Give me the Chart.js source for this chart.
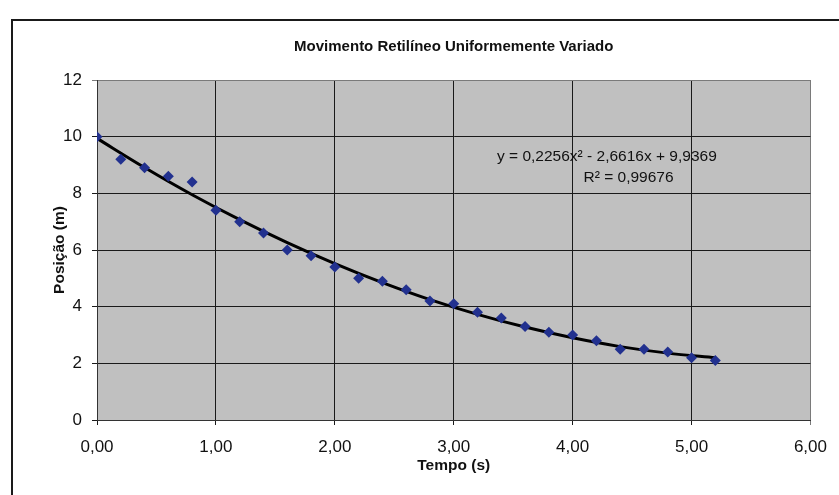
<!DOCTYPE html>
<html>
<head>
<meta charset="utf-8">
<script src="https://cdn.jsdelivr.net/npm/chart.js@4.4.1/dist/chart.umd.min.js"></script>
<style>
html,body{margin:0;padding:0;background:#fff;}
#wrap{width:839px;height:495px;position:relative;}
</style>
</head>
<body>
<div id="wrap"><canvas id="c" width="839" height="495"></canvas></div>
<script>
// Data
const tempo = [0,0.2,0.4,0.6,0.8,1.0,1.2,1.4,1.6,1.8,2.0,2.2,2.4,2.6,2.8,3.0,3.2,3.4,3.6,3.8,4.0,4.2,4.4,4.6,4.8,5.0,5.2];
const posicao = [10.0,9.2,8.9,8.6,8.4,7.4,7.0,6.6,6.0,5.8,5.4,5.0,4.9,4.6,4.2,4.1,3.8,3.6,3.3,3.1,3.0,2.8,2.5,2.5,2.4,2.2,2.1];
// Trendline samples
const trendX = [0,0.4,0.8,1.2,1.6,2.0,2.4,2.8,3.2,3.6,4.0,4.4,4.8,5.2];
const trendY = [9.94,8.91,7.95,7.07,6.26,5.52,4.85,4.25,3.73,3.28,2.90,2.59,2.36,2.20];
const xTicks = [0,1,2,3,4,5,6];
const yTicks = [0,2,4,6,8,10,12];
const titleText = 'Movimento Retilíneo Uniformemente Variado';
const xTitle = 'Tempo (s)';
const yTitle = 'Posição (m)';
const eqLine1 = 'y = 0,2256x² - 2,6616x + 9,9369';
const eqLine2 = 'R² = 0,99676';

const FONT = "'Liberation Sans', Arial, sans-serif";

const decor = {
  id: 'decor',
  beforeDraw(chart) {
    const {ctx, chartArea: a} = chart;
    ctx.save();
    ctx.fillStyle = '#ffffff';
    ctx.fillRect(0, 0, chart.width, chart.height);
    ctx.strokeStyle = '#1a1a1a';
    ctx.lineWidth = 2;
    ctx.strokeRect(12, 20, chart.width + 20, chart.height + 20);
    ctx.fillStyle = '#c0c0c0';
    ctx.fillRect(a.left, a.top, a.right - a.left, a.bottom - a.top);
    // chart title, centred over the plot area
    ctx.fillStyle = '#111';
    ctx.font = 'bold 15px ' + FONT;
    ctx.textAlign = 'center';
    ctx.textBaseline = 'middle';
    ctx.fillText(titleText, (a.left + a.right) / 2, 47);
    ctx.restore();
  },
  afterDatasetsDraw(chart) {
    const {ctx} = chart;
    const xs = chart.scales.x, ys = chart.scales.y;
    ctx.save();
    ctx.fillStyle = '#111';
    ctx.font = '15.5px ' + FONT;
    ctx.textAlign = 'center';
    ctx.textBaseline = 'middle';
    ctx.fillText(eqLine1, xs.getPixelForValue(4.288), ys.getPixelForValue(9.28));
    ctx.fillText(eqLine2, xs.getPixelForValue(4.47), ys.getPixelForValue(8.55));
    ctx.restore();
  }
};

const gridColor = (edgeValue) => (c) => (c.tick && c.tick.value === edgeValue) ? '#7a7a7a' : '#1a1a1a';

new Chart(document.getElementById('c'), {
  type: 'scatter',
  data: {
    datasets: [
      {
        label: 'Trend',
        type: 'line',
        data: trendX.map((x, i) => ({x, y: trendY[i]})),
        borderColor: '#000000',
        borderWidth: 3,
        pointRadius: 0,
        fill: false,
        cubicInterpolationMode: 'monotone',
        order: 2
      },
      {
        label: 'Posição',
        data: tempo.map((x, i) => ({x, y: posicao[i]})),
        pointStyle: 'rectRot',
        pointRadius: 5.5,
        backgroundColor: '#22318f',
        borderColor: '#22318f',
        borderWidth: 0,
        order: 1
      }
    ]
  },
  options: {
    responsive: false,
    animation: false,
    events: [],
    layout: {padding: {left: 0, right: 27, top: 80, bottom: 0}},
    plugins: {
      legend: {display: false},
      tooltip: {enabled: false},
      title: {display: false}
    },
    scales: {
      x: {
        type: 'linear',
        min: 0, max: 6,
        afterBuildTicks(s) { s.ticks = xTicks.map(v => ({value: v})); },
        afterFit(s) { s.height = 75; },
        ticks: {
          color: '#111',
          font: {family: FONT, size: 17},
          padding: 12,
          callback: v => v.toFixed(2).replace('.', ',')
        },
        grid: {color: gridColor(6), lineWidth: 1, tickLength: 5, drawTicks: true},
        border: {display: true, color: '#333', width: 1},
        title: {
          display: true, text: xTitle, color: '#111',
          font: {family: FONT, size: 15.5, weight: 'bold', lineHeight: 1.2},
          padding: {top: 0, bottom: 19.7}
        }
      },
      y: {
        type: 'linear',
        min: 0, max: 12,
        afterBuildTicks(s) { s.ticks = yTicks.map(v => ({value: v})); },
        afterFit(s) { s.width = 97; },
        ticks: {
          color: '#111',
          font: {family: FONT, size: 17},
          padding: 10,
          callback: v => String(v)
        },
        grid: {color: gridColor(12), lineWidth: 1, tickLength: 5, drawTicks: true},
        border: {display: true, color: '#333', width: 1},
        title: {
          display: true, text: yTitle, color: '#111',
          font: {family: FONT, size: 15.5, weight: 'bold', lineHeight: 1.2},
          padding: {top: 50.7, bottom: 0}
        }
      }
    }
  },
  plugins: [decor]
});
</script>
</body>
</html>
